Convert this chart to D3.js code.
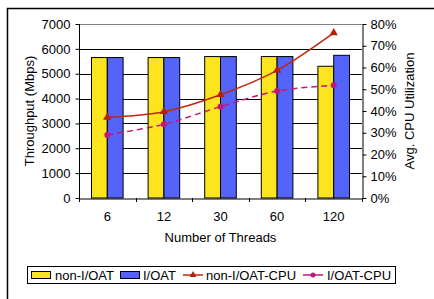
<!DOCTYPE html>
<html><head><meta charset="utf-8">
<script src="https://cdn.jsdelivr.net/npm/d3@7"></script>
<style>body{margin:0;background:#fff}svg{display:block}text{font-family:"Liberation Sans",Arial,sans-serif}</style>
</head><body><svg id="c" width="434" height="299"></svg>
<script>
const categories = ["6","12","30","60","120"];
const nonIOAT = [5650,5650,5690,5690,5300];
const IOAT = [5650,5650,5690,5690,5740];
const nonIOATCPU = [37.1,39.7,47.5,58.7,75.9];
const IOATCPU = [29.0,33.9,42.0,49.2,51.8];
const leftTicks = [0,1000,2000,3000,4000,5000,6000,7000];
const rightTicks = [0,10,20,30,40,50,60,70,80];

const FS = 13;
const svg = d3.select("#c");
const L=79, R=362, T=24, B=198;
// outer frame
svg.append("rect").attr("x",7.5).attr("y",8.5).attr("width",440).attr("height",300)
  .attr("fill","none").attr("stroke","#000").attr("stroke-width",1.5);

const x = d3.scaleBand().domain(categories).range([L,R]);
const xi = d3.scaleBand().domain(["a","b"]).range([0,31.6]);
const y = d3.scaleLinear().domain([0,7000]).range([B,T]);
const y2 = d3.scaleLinear().domain([0,80]).range([B,T]);

// gridlines
svg.append("g").selectAll("line").data(leftTicks.slice(1,-1)).join("line")
  .attr("x1",L).attr("x2",R).attr("y1",d=>Math.round(y(d))+0.5).attr("y2",d=>Math.round(y(d))+0.5)
  .attr("stroke","#000").attr("stroke-width",1);
svg.append("line").attr("x1",L).attr("x2",R).attr("y1",T+0.5).attr("y2",T+0.5).attr("stroke","#808080");

// bars
const g = svg.append("g");
categories.forEach((c,i)=>{
  const x0 = x(c)+x.bandwidth()/2-15.8;
  g.append("rect").attr("x",x0+xi("a")).attr("y",y(nonIOAT[i])).attr("width",xi.bandwidth()).attr("height",B-y(nonIOAT[i]))
    .attr("fill","#fce41e").attr("stroke","#000").attr("stroke-width",1);
  g.append("rect").attr("x",x0+xi("b")).attr("y",y(IOAT[i])).attr("width",xi.bandwidth()).attr("height",B-y(IOAT[i]))
    .attr("fill","#5463fa").attr("stroke","#000").attr("stroke-width",1);
});

// axes
const ax = svg.append("g").attr("transform",`translate(${L+0.5},0)`)
  .call(d3.axisLeft(y).tickValues(leftTicks).tickFormat(d3.format("d")).tickSize(4).tickSizeOuter(0).tickPadding(5));
const ax2 = svg.append("g").attr("transform",`translate(${R+0.5},0)`)
  .call(d3.axisRight(y2).tickValues(rightTicks).tickSize(4).tickSizeOuter(0).tickFormat(d=>d+"%").tickPadding(4));
const xb = svg.append("g").attr("transform",`translate(0,${B+0.5})`)
  .call(d3.axisBottom(x).tickSize(0).tickSizeOuter(0).tickPadding(13));
// tick marks at band boundaries
svg.append("g").selectAll("line").data(categories.concat(["end"])).join("line")
  .attr("x1",(d,i)=>Math.round(L+i*x.bandwidth())+0.5).attr("x2",(d,i)=>Math.round(L+i*x.bandwidth())+0.5)
  .attr("y1",B).attr("y2",B+4).attr("stroke","#000");
[ax,ax2,xb].forEach(a=>{a.selectAll("text").attr("font-size",FS).attr("fill","#000");a.selectAll("path,line").attr("stroke","#000");});
ax.select(".domain").attr("d",`M0,${T}V${B}`);

// lines
const cx = d=>x(d)+x.bandwidth()/2;
const line1 = d3.line().x((d,i)=>cx(categories[i])).y(d=>y2(d)).curve(d3.curveCatmullRom.alpha(0.5));
svg.append("path").attr("d",line1(nonIOATCPU)).attr("fill","none").attr("stroke","#c0280c").attr("stroke-width",1.5);
svg.append("path").attr("d",line1(IOATCPU)).attr("fill","none").attr("stroke","#c0187a").attr("stroke-width",1.5).attr("stroke-dasharray","6,4");
const tri = d3.symbol().type(d3.symbolTriangle).size(30);
svg.append("g").selectAll("path").data(nonIOATCPU).join("path")
  .attr("d",tri).attr("transform",(d,i)=>`translate(${cx(categories[i])},${y2(d)})`).attr("fill","#b52008");
svg.append("g").selectAll("circle").data(IOATCPU).join("circle")
  .attr("cx",(d,i)=>cx(categories[i])).attr("cy",d=>y2(d)).attr("r",3).attr("fill","#c0187a");

// titles
svg.append("text").attr("transform",`translate(34,${(T+B)/2}) rotate(-90)`).attr("text-anchor","middle")
  .attr("font-size",FS).text("Throughput (Mbps)");
svg.append("text").attr("transform",`translate(414,${(T+B)/2}) rotate(-90)`).attr("text-anchor","middle")
  .attr("font-size",FS).text("Avg. CPU Utilization");
svg.append("text").attr("x",(L+R)/2).attr("y",242).attr("text-anchor","middle").attr("font-size",FS).text("Number of Threads");

// legend
const lg = svg.append("g");
lg.append("rect").attr("x",27.5).attr("y",266.5).attr("width",368).attr("height",17).attr("fill","#fff").attr("stroke","#000");
const ly = 275;
lg.append("rect").attr("x",31.5).attr("y",ly-3.5).attr("width",19).attr("height",7).attr("fill","#fce41e").attr("stroke","#000");
lg.append("text").attr("x",55).attr("y",ly+4.5).attr("font-size",FS).text("non-I/OAT");
lg.append("rect").attr("x",120.5).attr("y",ly-3.5).attr("width",19).attr("height",7).attr("fill","#5463fa").attr("stroke","#000");
lg.append("text").attr("x",143).attr("y",ly+4.5).attr("font-size",FS).text("I/OAT");
lg.append("line").attr("x1",183).attr("x2",203).attr("y1",ly).attr("y2",ly).attr("stroke","#c0280c").attr("stroke-width",1.5);
lg.append("path").attr("d",d3.symbol().type(d3.symbolTriangle).size(20)).attr("transform",`translate(193,${ly})`).attr("fill","#b52008");
lg.append("text").attr("x",206).attr("y",ly+4.5).attr("font-size",FS).text("non-I/OAT-CPU");
lg.append("line").attr("x1",303).attr("x2",323).attr("y1",ly).attr("y2",ly).attr("stroke","#c0187a").attr("stroke-width",1.5);
lg.append("circle").attr("cx",313).attr("cy",ly).attr("r",2.5).attr("fill","#c0187a");
lg.append("text").attr("x",327).attr("y",ly+4.5).attr("font-size",FS).text("I/OAT-CPU");
</script></body></html>
